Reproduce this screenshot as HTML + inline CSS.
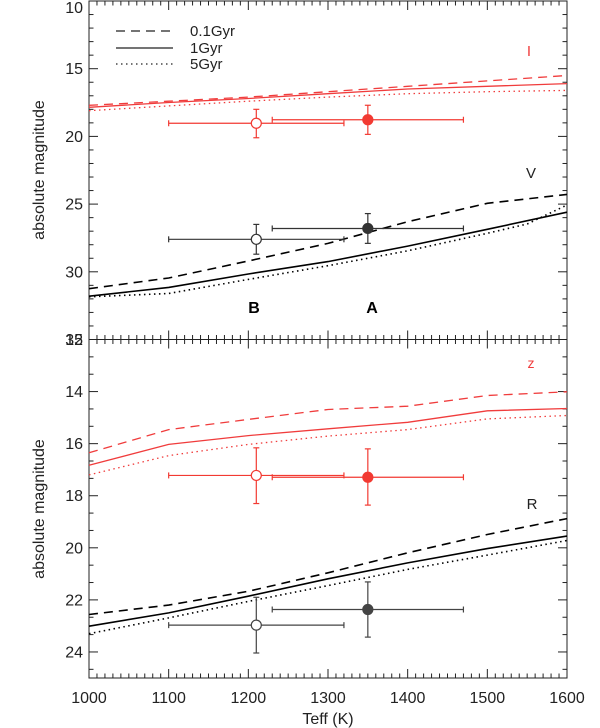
<!DOCTYPE html>
<html><head><meta charset="utf-8"><style>
html,body{margin:0;padding:0;background:#fff;}
svg{display:block;font-family:"Liberation Sans",sans-serif;}
</style></head><body>
<svg id="chart" width="600" height="728" viewBox="0 0 600 728"></svg>
<script>
const teffs=[1000,1100,1200,1300,1400,1500,1600];
// top panel
const iDash=[17.7,17.4,17.1,16.7,16.3,15.9,15.5];
const iSolid=[17.85,17.5,17.2,16.85,16.5,16.3,16.1];
const iDot=[18.1,17.75,17.4,17.1,16.85,16.7,16.6];
const vDash=[31.25,30.46,29.2,27.9,26.3,24.94,24.28];
const vSolid=[31.8,31.15,30.16,29.25,28.1,26.86,25.6];
const vDotT=[1000,1100,1200,1300,1400,1500,1550,1600];
const vDot=[31.85,31.6,30.56,29.55,28.45,27.16,26.47,25.07];
// bottom panel
const zDash=[16.35,15.46,15.07,14.69,14.56,14.15,14.01];
const zSolid=[16.83,16.03,15.69,15.43,15.18,14.74,14.65];
const zDot=[17.2,16.46,16.03,15.71,15.46,15.05,14.92];
const rDash=[22.56,22.2,21.67,20.96,20.19,19.49,18.88];
const rSolid=[23.01,22.5,21.86,21.19,20.58,20.03,19.55];
const rDot=[23.3,22.69,22.06,21.45,20.83,20.28,19.72];
// points: [teff, terr, mag, magLow, magHigh]
const ptIB=[1210,110,19.03,18.0,20.1];
const ptIA=[1350,120,18.77,17.7,19.85];
const ptVB=[1210,110,27.6,26.5,28.7];
const ptVA=[1350,120,26.8,25.7,27.9];
const ptZB=[1210,110,17.22,16.16,18.3];
const ptZA=[1350,120,17.29,16.2,18.36];
const ptRB=[1210,110,22.97,21.9,24.04];
const ptRA=[1350,120,22.37,21.31,23.43];
const xTicks=[1000,1100,1200,1300,1400,1500,1600];
const topTicks=[10,15,20,25,30,35];
const botTicks=[12,14,16,18,20,22,24];

const NS="http://www.w3.org/2000/svg";
const svg=document.getElementById('chart');
const X0=89,X1=567;
const xs=t=>X0+(t-1000)/600*(X1-X0);
const topP={y0:1,y1:339.5,min:10,max:35};
const botP={y0:339.5,y1:678,min:12,max:25};
const ysF=p=>m=>p.y0+(m-p.min)/(p.max-p.min)*(p.y1-p.y0);
const yT=ysF(topP),yB=ysF(botP);
function el(tag,attrs,parent){const e=document.createElementNS(NS,tag);for(const k in attrs)e.setAttribute(k,attrs[k]);(parent||svg).appendChild(e);return e;}
const RED="#f03c3c",PTR="#f23a32",BLK="#000";
const styles={dash:"9,6",solid:"",dot:"1.5,3.5"};
function curve(ts,ms,ys,color,style,name){
  const d=ts.map((t,i)=>(i?'L':'M')+xs(t).toFixed(1)+','+ys(ms[i]).toFixed(1)).join('');
  const p=el('path',{d:d,fill:'none',stroke:color,'stroke-width':color===BLK?1.6:1.3});
  if(styles[style])p.setAttribute('stroke-dasharray',styles[style]);
  
  
}
function point(pt,ys,color,filled,name){
  const g=el('g',{stroke:color,'stroke-width':1.2,fill:'none'});
  
  
  const x=xs(pt[0]),y=ys(pt[2]),xl=xs(pt[0]-pt[1]),xr=xs(pt[0]+pt[1]),yl=ys(pt[3]),yh=ys(pt[4]);
  el('line',{x1:xl,y1:y,x2:xr,y2:y},g);
  el('line',{x1:xl,y1:y-3,x2:xl,y2:y+3},g);
  el('line',{x1:xr,y1:y-3,x2:xr,y2:y+3},g);
  el('line',{x1:x,y1:yl,x2:x,y2:yh},g);
  el('line',{x1:x-3,y1:yl,x2:x+3,y2:yl},g);
  el('line',{x1:x-3,y1:yh,x2:x+3,y2:yh},g);
  el('circle',{cx:x,cy:y,r:5,fill:filled?color:'#fff'},g);
}
function text(x,y,s,attrs,name){const t=el('text',Object.assign({x:x,y:y,'font-size':15,fill:'#222'},attrs||{}));t.textContent=s;return t;}

function panel(p,ys,ticks,minorStep,name){
  const g=el('g',{stroke:'#222','stroke-width':1,fill:'none'});
  
  
  el('rect',{x:X0,y:p.y0,width:X1-X0,height:p.y1-p.y0},g);
  for(let t=1000;t<=1600;t+=10){const x=xs(t);const maj=(t%100===0);const L=maj?9:4.5;
    el('line',{x1:x,y1:p.y1,x2:x,y2:p.y1-L},g);el('line',{x1:x,y1:p.y0,x2:x,y2:p.y0+L},g);}
  for(let m=p.min;m<=p.max+1e-6;m+=minorStep){const y=ys(m);const maj=ticks.some(v=>Math.abs(v-m)<1e-6);const L=maj?9:4.5;
    el('line',{x1:X0,y1:y,x2:X0+L,y2:y},g);el('line',{x1:X1,y1:y,x2:X1-L,y2:y},g);}
  ticks.forEach(v=>{let yy=ys(v)+5.5; if(yy<14) yy=13; text(X0-6,yy,String(v),{'text-anchor':'end','font-size':16},name+'-tick-'+v);});
}
panel(topP,yT,topTicks,1,'top-panel');
panel(botP,yB,botTicks,2/3,'bottom-panel');
xTicks.forEach(v=>text(xs(v),703,String(v),{'text-anchor':'middle','font-size':16},'x-tick-'+v));
text(328,724,'Teff (K)',{'text-anchor':'middle','font-size':16},'x-axis-title');
text(0,0,'absolute magnitude',{'text-anchor':'middle','font-size':16,transform:'translate(44,170) rotate(-90)'},'y-axis-title-top');
text(0,0,'absolute magnitude',{'text-anchor':'middle','font-size':16,transform:'translate(44,509) rotate(-90)'},'y-axis-title-bottom');

curve(teffs,iDash,yT,RED,'dash','i-01gyr');
curve(teffs,iSolid,yT,RED,'solid','i-1gyr');
curve(teffs,iDot,yT,RED,'dot','i-5gyr');
curve(teffs,vDash,yT,BLK,'dash','v-01gyr');
curve(teffs,vSolid,yT,BLK,'solid','v-1gyr');
curve(vDotT,vDot,yT,BLK,'dot','v-5gyr');
curve(teffs,zDash,yB,RED,'dash','z-01gyr');
curve(teffs,zSolid,yB,RED,'solid','z-1gyr');
curve(teffs,zDot,yB,RED,'dot','z-5gyr');
curve(teffs,rDash,yB,BLK,'dash','r-01gyr');
curve(teffs,rSolid,yB,BLK,'solid','r-1gyr');
curve(teffs,rDot,yB,BLK,'dot','r-5gyr');

point(ptIB,yT,PTR,false,'i-point-b');
point(ptIA,yT,PTR,true,'i-point-a');
point(ptVB,yT,'#333',false,'v-point-b');
point(ptVA,yT,'#333',true,'v-point-a');
point(ptZB,yB,PTR,false,'z-point-b');
point(ptZA,yB,PTR,true,'z-point-a');
point(ptRB,yB,'#444',false,'r-point-b');
point(ptRA,yB,'#444',true,'r-point-a');

text(529,56,'I',{'text-anchor':'middle',fill:RED,'font-size':15},'band-label-i');
text(531,178,'V',{'text-anchor':'middle','font-size':15},'band-label-v');
text(531,368,'z',{'text-anchor':'middle',fill:RED,'font-size':14},'band-label-z');
text(532,509,'R',{'text-anchor':'middle','font-size':15},'band-label-r');
text(254,313,'B',{'text-anchor':'middle','font-size':16,'font-weight':'bold',fill:'#000'},'object-label-b');
text(372,313,'A',{'text-anchor':'middle','font-size':16,'font-weight':'bold',fill:'#000'},'object-label-a');

// legend
const lg=el('g',{});


[['dash','0.1Gyr',31],['solid','1Gyr',48],['dot','5Gyr',64]].forEach(([s,l,y])=>{
  const ln=el('line',{x1:116,y1:y,x2:173,y2:y,stroke:'#222','stroke-width':1.2},lg);
  if(styles[s])ln.setAttribute('stroke-dasharray',styles[s]);
  
  
  const t=text(190,y+5,l,{'font-size':15},'legend-entry-'+l);
  lg.appendChild(t);
});
</script>
</body></html>
